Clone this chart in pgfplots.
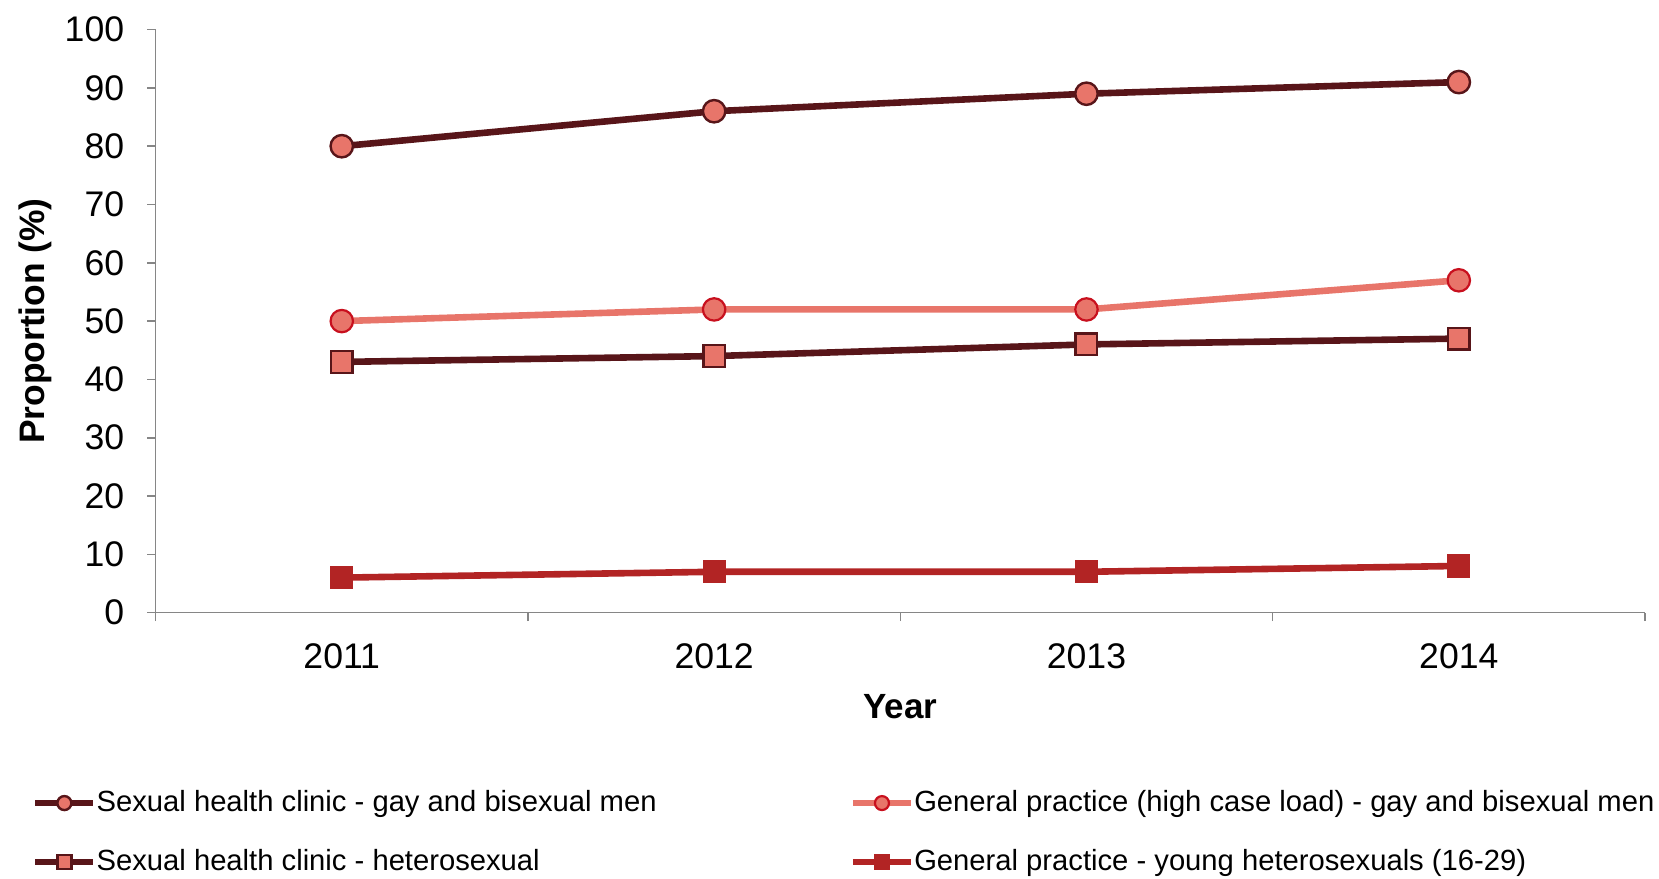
\documentclass[border=0pt]{standalone}
\usepackage{fontspec}
\setmainfont{Liberation Sans}
\usepackage{pgfplots}
\pgfplotsset{compat=1.18}

\definecolor{darkmaroon}{RGB}{88,21,25}
\definecolor{salmon}{RGB}{232,117,106}
\definecolor{edgered}{RGB}{200,16,30}
\definecolor{brick}{RGB}{178,36,36}
\definecolor{axisgray}{RGB}{134,134,134}

\begin{document}
\begin{tikzpicture}
\path[use as bounding box] (-77.8pt,-132.7pt) rectangle (751.7pt,306.3pt);
\begin{axis}[
  at={(0,0)}, anchor=south west,
  scale only axis,
  width=744.7pt, height=291.5pt,
  xmin=-0.5, xmax=3.5,
  ymin=0, ymax=100,
  ytick={0,10,...,100},
  xtick={0,1,2,3},
  xticklabels={2011,2012,2013,2014},
  minor xtick={-0.5,0.5,1.5,2.5,3.5},
  axis lines*=left,
  axis line style={draw=axisgray, line width=0.8pt, -},
  tick align=outside,
  tick pos=left,
  major tick length=4.2pt,
  minor tick length=4.2pt,
  x tick style={draw=none},
  minor x tick style={draw=axisgray, line width=0.8pt},
  y tick style={draw=axisgray, line width=0.8pt},
  /pgf/number format/assume math mode=true,
  tick label style={font=\fontsize{17.8}{20}\selectfont},
  xticklabel style={yshift=-8pt},
  yticklabel style={xshift=-8pt},
  ylabel={\textbf{Proportion (\%)}},
  ylabel style={font=\fontsize{17.7}{20}\selectfont, at={(axis description cs:-0.081,0.5)}, anchor=center, rotate=0},
  xlabel={\textbf{Year}},
  xlabel style={font=\fontsize{17.5}{20}\selectfont, at={(axis description cs:0.5,-0.1616)}, anchor=center},
  legend columns=2,
  legend cell align=left,
  legend image code/.code={
    \draw[mark repeat=2, mark phase=2, #1, mark size=3.5pt] plot coordinates {(0pt,0pt) (14.5pt,0pt) (29pt,0pt)};
  },
  legend style={
    at={(axis description cs:-0.0832,-0.302)}, anchor=north west,
    draw=none, fill=none, inner sep=0pt,
    font=\fontsize{14.6}{17}\selectfont,
    nodes={inner sep=0pt, text height=11pt, text depth=3pt},
    row sep=15.5pt,
  },
]
% Sexual health clinic - gay and bisexual men
\addplot[darkmaroon, line width=3.3pt, mark=*, mark size=5.6pt,
  mark options={fill=salmon, draw=darkmaroon, line width=1.2pt}]
  coordinates {(0,80) (1,86) (2,89) (3,91)};
\addlegendentry{\makebox[376.5pt][l]{Sexual health clinic - gay and bisexual men}}
% General practice (high case load) - gay and bisexual men
\addplot[salmon, line width=3.3pt, mark=*, mark size=5.6pt,
  mark options={fill=salmon, draw=edgered, line width=1.1pt}]
  coordinates {(0,50) (1,52) (2,52) (3,57)};
\addlegendentry{General practice (high case load) - gay and bisexual men}
% Sexual health clinic - heterosexual
\addplot[darkmaroon, line width=3.3pt, mark=square*, mark size=5.4pt,
  mark options={fill=salmon, draw=darkmaroon, line width=1.2pt}]
  coordinates {(0,43) (1,44) (2,46) (3,47)};
\addlegendentry{\makebox[376.5pt][l]{Sexual health clinic - heterosexual}}
% General practice - young heterosexuals (16-29)
\addplot[brick, line width=3.3pt, mark=square*, mark size=5.4pt,
  mark options={fill=brick, draw=brick, line width=0.8pt}]
  coordinates {(0,6) (1,7) (2,7) (3,8)};
\addlegendentry{General practice - young heterosexuals (16-29)}
\end{axis}
\end{tikzpicture}
\end{document}
